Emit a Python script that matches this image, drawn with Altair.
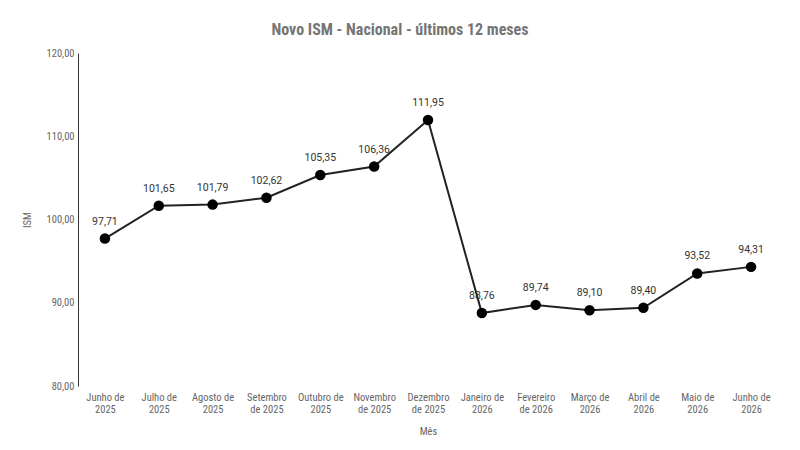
import altair as alt
import pandas as pd

months = ["Junho de|2025", "Julho de|2025", "Agosto de|2025", "Setembro|de 2025",
          "Outubro de|2025", "Novembro|de 2025", "Dezembro|de 2025", "Janeiro de|2026",
          "Fevereiro|de 2026", "Março de|2026", "Abril de|2026", "Maio de|2026", "Junho de|2026"]
ism = [97.71, 101.65, 101.79, 102.62, 105.35, 106.36, 111.95, 88.76, 89.74, 89.10, 89.40, 93.52, 94.31]
y_ticks = [80, 90, 100, 110, 120]

df = pd.DataFrame({"mes": months, "ism": ism})

narrow = "Liberation Sans Narrow, Arial Narrow, Roboto Condensed, sans-serif"
gray = "#666666"

base = alt.Chart(df).encode(
    x=alt.X("mes:N", sort=months,
            scale=alt.Scale(type="point", padding=0.5),
            axis=alt.Axis(labelAngle=0, labelExpr="split(datum.value, '|')",
                          domain=False, ticks=False, labelColor=gray, labelFont=narrow,
                          labelFontSize=10.5, labelLineHeight=12, labelPadding=6,
                          title="Mês", titleFont=narrow, titleFontSize=10.5,
                          titleFontWeight="normal", titleColor=gray, titlePadding=12)),
    y=alt.Y("ism:Q",
            scale=alt.Scale(domain=[80, 120], nice=False, zero=False),
            axis=alt.Axis(values=y_ticks,
                          labelExpr="replace(format(datum.value, '.2f'), '.', ',')",
                          grid=False, ticks=False, domainColor="#333333", domainWidth=1,
                          labelColor=gray, labelFont=narrow, labelFontSize=10.5, labelPadding=4,
                          title="ISM", titleFont=narrow, titleFontSize=10.5,
                          titleFontWeight="normal", titleColor=gray, titlePadding=14)),
)

line = base.mark_line(color="#222222", strokeWidth=2)
points = base.mark_point(filled=True, color="#000000", size=110, opacity=1)
labels = base.transform_calculate(
    lbl="replace(format(datum.ism, '.2f'), '.', ',')"
).mark_text(dy=-17, fontSize=10.5, font="Roboto", color="#333333").encode(text="lbl:N")

chart = alt.layer(line, points, labels).properties(
    width=700, height=333,
    background="white",
    title=alt.TitleParams("Novo ISM - Nacional - últimos 12 meses", anchor="middle", dx=-28,
                          offset=10, fontSize=16, fontWeight="bold", color="#757575", font=narrow),
    autosize=alt.AutoSizeParams(type="none"),
    padding={"left": 70, "top": 45, "right": 6, "bottom": 56},
).configure_view(strokeWidth=0, stroke="transparent")

chart.save("out.html", embed_options={"renderer": "svg", "actions": False})
